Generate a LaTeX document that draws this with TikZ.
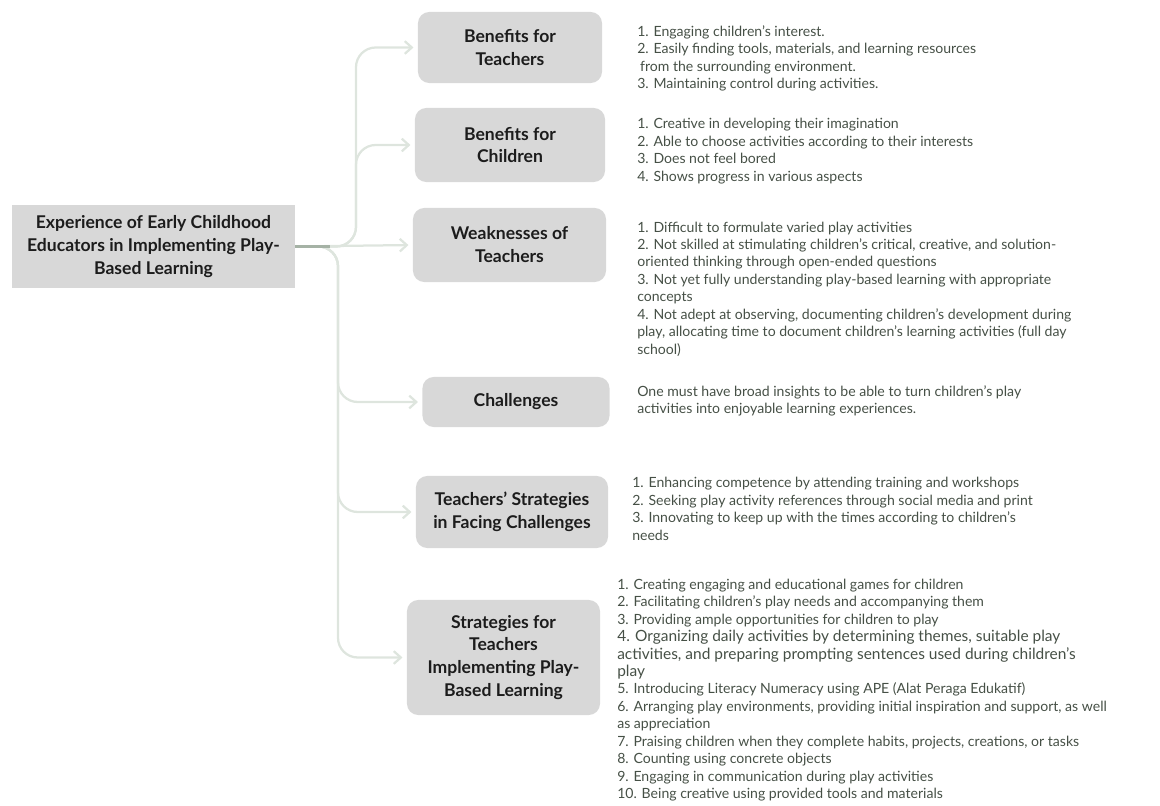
\documentclass[tikz,border=0pt]{standalone}
\usepackage{fontspec}
\setmainfont{Lato}
\usetikzlibrary{arrows.meta, calc}
\definecolor{boxc}{RGB}{216,216,216}
\definecolor{inkc}{RGB}{28,28,28}
\definecolor{listc}{RGB}{70,80,70}
\definecolor{linec}{RGB}{222,229,222}
\definecolor{hubc}{RGB}{165,178,165}
\tikzset{
  topic/.style={
    rectangle, fill=boxc, draw=none, align=center, text=inkc,
    font=\fontsize{12.5}{16.3}\selectfont\bfseries, inner sep=4pt
  },
  branch/.style={topic, rounded corners=8pt},
  items/.style={anchor=west, align=left, text=listc, inner sep=0pt,
                font=\fontsize{10}{12.4}\selectfont},
  conn/.style={draw=linec, line width=1.6pt, rounded corners=14pt,
               -{Straight Barb[length=5pt, width=9pt]}, shorten >=3pt},
}
\newcommand{\biggeritem}[1]{{\fontsize{11}{13.4}\selectfont #1}}

\begin{document}
\begin{tikzpicture}[x=0.025cm, y=-0.025cm]

  \useasboundingbox (0,0) rectangle (1160,806);

  % main topic on the left
  \node[topic, minimum width=7.075cm, minimum height=2.075cm] (root) at (153.5,246.5)
    {Experience of Early Childhood\\Educators in Implementing Play-\\Based Learning};

  % sub-topics
  \node[branch, minimum width=4.6cm, minimum height=1.775cm] (b1) at (510,47.5)
    {Benefits for\\Teachers};
  \node[branch, minimum width=4.75cm, minimum height=1.85cm] (b2) at (510,145)
    {Benefits for\\Children};
  \node[branch, minimum width=4.825cm, minimum height=1.85cm] (b3) at (509.5,245)
    {Weaknesses of\\Teachers};
  \node[branch, minimum width=4.675cm, minimum height=1.25cm] (b4) at (516,402)
    {Challenges};
  \node[branch, minimum width=4.8cm, minimum height=1.8cm] (b5) at (512,512)
    {Teachers' Strategies\\in Facing Challenges};
  \node[branch, minimum width=4.825cm, minimum height=2.875cm] (b6) at (503.5,657.5)
    {Strategies for\\Teachers\\Implementing Play-\\Based Learning};

  % findings next to each sub-topic
  \node[items] (t1) at (637,58.5)
    {1. Engaging children's interest.\\
     2. Easily finding tools, materials, and learning resources\\
     \hspace{2pt}from the surrounding environment.\\
     3. Maintaining control during activities.};
  \node[items] (t2) at (637,151)
    {1. Creative in developing their imagination\\
     2. Able to choose activities according to their interests\\
     3. Does not feel bored\\
     4. Shows progress in various aspects};
  \node[items] (t3) at (637,289)
    {1. Difficult to formulate varied play activities\\
     2. Not skilled at stimulating children's critical, creative, and solution-\\
     oriented thinking through open-ended questions\\
     3. Not yet fully understanding play-based learning with appropriate\\
     concepts\\
     4. Not adept at observing, documenting children's development during\\
     play, allocating time to document children's learning activities (full day\\
     school)};
  \node[items] (t4) at (637,401)
    {One must have broad insights to be able to turn children's play\\
     activities into enjoyable learning experiences.};
  \node[items] (t5) at (632,509)
    {1. Enhancing competence by attending training and workshops\\
     2. Seeking play activity references through social media and print\\
     3. Innovating to keep up with the times according to children's\\
     needs};
  \node[items] (t6) at (617,690)
    {1. Creating engaging and educational games for children\\
     2. Facilitating children's play needs and accompanying them\\
     3. Providing ample opportunities for children to play\\
     \biggeritem{4. Organizing daily activities by determining themes, suitable play}\\
     \biggeritem{activities, and preparing prompting sentences used during children's}\\
     \biggeritem{play}\\
     5. Introducing Literacy Numeracy using APE (Alat Peraga Edukatif)\\
     6. Arranging play environments, providing initial inspiration and support, as well\\
     as appreciation\\
     7. Praising children when they complete habits, projects, creations, or tasks\\
     8. Counting using concrete objects\\
     9. Engaging in communication during play activities\\
     10. Being creative using provided tools and materials};

  % connectors
  \coordinate (hub) at (330,246.5);
  \coordinate (up) at (356,246.5);
  \coordinate (down) at (338,246.5);

  \foreach \b in {b1,b2}
    \draw[conn] (root.east) -- (up) |- (\b.west);
  \draw[conn] (root.east) -- (b3.west);
  \foreach \b in {b4,b5,b6}
    \draw[conn] (root.east) -- (down) |- (\b.west);
  \draw[hubc, line width=1.6pt] (root.east) -- (hub);

\end{tikzpicture}
\end{document}
